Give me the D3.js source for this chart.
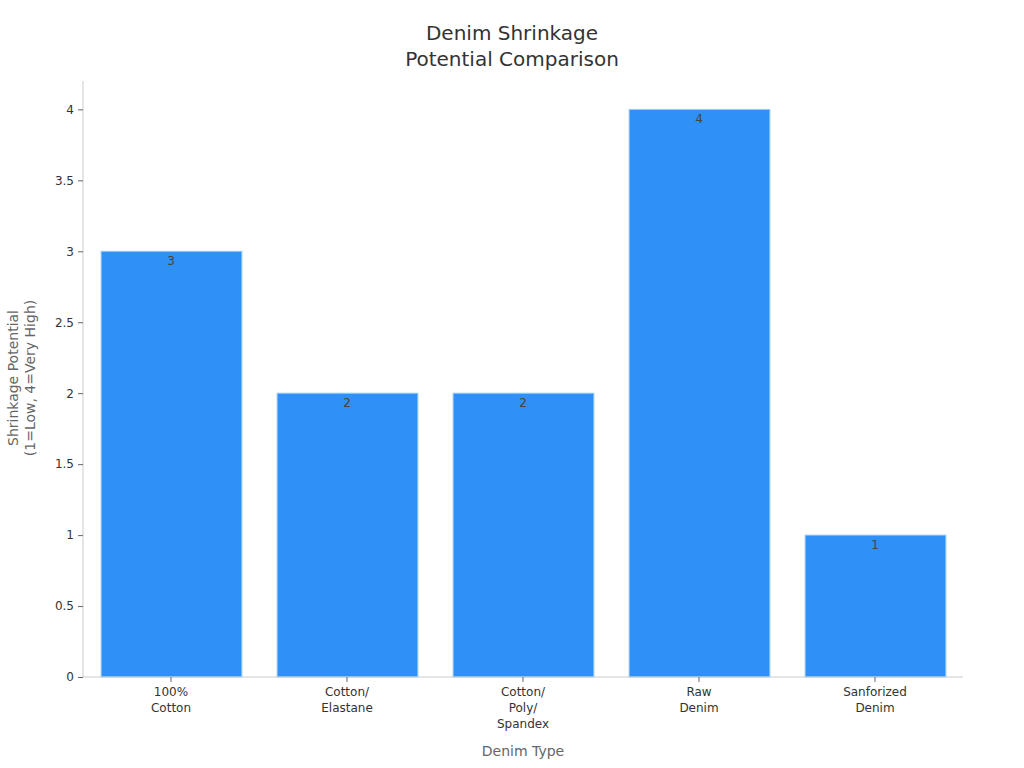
<!DOCTYPE html>
<html><head><meta charset="utf-8">
<script src="https://cdn.jsdelivr.net/npm/d3@7"></script>
<style>body{margin:0;background:#fff;} svg, svg text{font-family:"DejaVu Sans",sans-serif;}</style>
</head><body><svg id="c" width="1024" height="768"></svg>
<script>
const categories = [["100%","Cotton"],["Cotton/","Elastane"],["Cotton/","Poly/","Spandex"],["Raw","Denim"],["Sanforized","Denim"]];
const values = [3,2,2,4,1];
const yTicks = [0,0.5,1,1.5,2,2.5,3,3.5,4];
const yTickLabels = ["0","0.5","1","1.5","2","2.5","3","3.5","4"];
const titleLines = ["Denim Shrinkage","Potential Comparison"];
const yTitleLines = ["Shrinkage Potential","(1=Low, 4=Very High)"];
const xTitle = "Denim Type";

const svg = d3.select("#c");
const m = {l:83, r:963, t:81, b:677};
const keys = categories.map((c,i)=>i);
const x = d3.scaleBand().domain(keys).range([m.l,m.r]).paddingInner(0.2).paddingOuter(0.1);
const y = d3.scaleLinear().domain([0,4.2]).range([m.b,m.t]);

// title
svg.append("text").attr("x",512).attr("text-anchor","middle").attr("fill","#333").attr("font-size",20)
  .selectAll("tspan").data(titleLines).join("tspan").attr("x",512).attr("y",(d,i)=>40+i*26).text(d=>d);

// bars
svg.append("g").selectAll("rect").data(values).join("rect")
  .attr("x",(d,i)=>x(i)+0.5).attr("width",x.bandwidth())
  .attr("y",d=>y(d)).attr("height",d=>y(0)-y(d))
  .attr("fill","#2f91f5").attr("stroke","#9ecbf7").attr("stroke-width",1);

// labels
svg.append("g").selectAll("text").data(values).join("text")
  .attr("x",(d,i)=>x(i)+x.bandwidth()/2).attr("y",d=>y(d)+14)
  .attr("text-anchor","middle").attr("font-size",12).attr("fill","#444").text(d=>d);

// y axis
const ya = svg.append("g").attr("transform",`translate(${m.l},0)`)
  .call(d3.axisLeft(y).tickValues(yTicks).tickFormat((d,i)=>yTickLabels[i]).tickSize(5).tickPadding(4))
  .attr("font-family","DejaVu Sans");
ya.select(".domain").attr("stroke","#ccc").attr("d",`M0,${m.t}V${m.b}`);
ya.selectAll(".tick line").attr("stroke","#666");
ya.selectAll(".tick text").attr("fill","#333").attr("font-size",12);

// x axis
const xa = svg.append("g").attr("transform",`translate(0,${m.b})`)
  .call(d3.axisBottom(x).tickSize(5).tickFormat(""))
  .attr("font-family","DejaVu Sans");
xa.select(".domain").attr("stroke","#ccc").attr("d",`M${m.l},0H${m.r}`);
xa.selectAll(".tick line").attr("stroke","#666");
xa.selectAll(".tick").append("text").attr("fill","#333").attr("font-size",12).attr("text-anchor","middle")
  .selectAll("tspan").data(d=>categories[d]).join("tspan").attr("x",0).attr("y",(d,i)=>19+i*16).text(d=>d);

// axis titles
svg.append("text").attr("x",523).attr("y",756).attr("text-anchor","middle").attr("fill","#666").attr("font-size",14).text(xTitle);
svg.append("text").attr("transform","translate(0,378) rotate(-90)").attr("text-anchor","middle").attr("fill","#666").attr("font-size",14)
  .selectAll("tspan").data(yTitleLines).join("tspan").attr("x",0).attr("y",(d,i)=>18+i*17).text(d=>d);
</script></body></html>
